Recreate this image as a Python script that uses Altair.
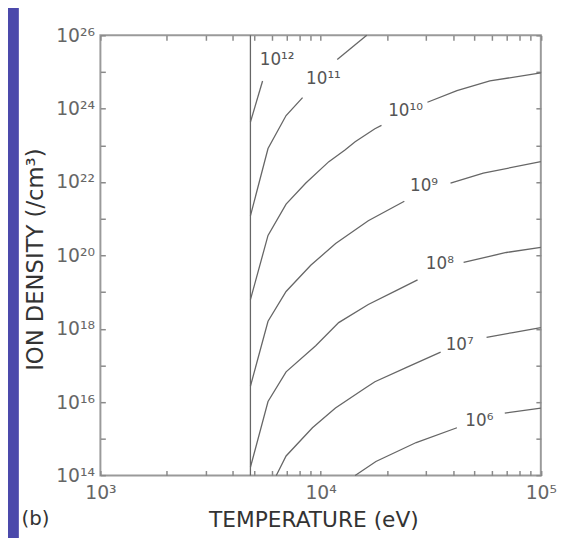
import altair as alt
import pandas as pd

FONT = "DejaVu Sans"

# ---- contour segments (T in eV, ion density n in /cm^3) ----
c12a_T = [4800, 5450]
c12a_n = [4.3e23, 5.7e24]
c11a_T = [4800, 5770, 6970, 8280]
c11a_n = [1.2e21, 8.2e22, 6.5e23, 2.0e24]
c11b_T = [11900, 16200]
c11b_n = [2.2e25, 1.0e26]
c10a_T = [4800, 5770, 6970, 8570, 10900, 12900, 14350, 17640, 18900]
c10a_n = [6.2e18, 3.5e20, 2.5e21, 9.4e21, 3.6e22, 7.5e22, 1.25e23, 2.85e23, 3.5e23]
c10b_T = [30550, 41600, 58700, 100000]
c10b_n = [1.5e24, 3.1e24, 5.7e24, 9.5e24]
c9a_T = [4800, 5770, 6970, 9020, 11700, 16460, 24000]
c9a_n = [2.7e16, 1.6e18, 1.04e19, 5.4e19, 2.1e20, 8.8e20, 3.0e21]
c9b_T = [38900, 54800, 100000]
c9b_n = [9.4e21, 1.75e22, 3.6e22]
c8a_T = [4800, 5770, 6970, 9500, 12080, 16460, 21680, 27560]
c8a_n = [1.67e14, 1.04e16, 6.7e16, 3.45e17, 1.47e18, 4.6e18, 1.04e19, 2.15e19]
c8b_T = [44600, 69700, 100000]
c8b_n = [6.5e19, 1.2e20, 1.65e20]
c7a_T = [6290, 6970, 9180, 11680, 15900, 17640, 24860, 35080]
c7a_n = [1e14, 3.4e14, 2.0e15, 6.9e15, 2.4e16, 3.6e16, 9.1e16, 2.3e17]
c7b_T = [56700, 74700, 100000]
c7b_n = [5.8e17, 7.9e17, 1.08e18]
c6a_T = [14350, 17830, 27170, 41600]
c6a_n = [1e14, 2.4e14, 7.9e14, 2.0e15]
c6b_T = [68600, 100000]
c6b_n = [5.0e15, 6.9e15]

# contour labels
label_T = [6350, 10300, 24300, 29500, 34800, 42800, 52600]
label_n = [2.13e25, 6.56e24, 8.5e23, 7.7e21, 5.8e19, 3.6e17, 3.06e15]
label_text = ["10\u00b9\u00b2", "10\u00b9\u00b9", "10\u00b9\u2070", "10\u2079", "10\u2078", "10\u2077", "10\u2076"]

# vertical boundary line
vline_T = [4800]
vline_n_lo = [1e14]
vline_n_hi = [1e26]

# axes
x_major = [1e3, 1e4, 1e5]
x_major_exp = [3, 4, 5]
x_major_labels = ["10\u00b3", "10\u2074", "10\u2075"]
y_major = [1e14, 1e16, 1e18, 1e20, 1e22, 1e24, 1e26]
y_major_exp = [14, 16, 18, 20, 22, 24, 26]
y_major_labels = ["10\u00b9\u2074", "10\u00b9\u2076", "10\u00b9\u2078", "10\u00b2\u2070",
                  "10\u00b2\u00b2", "10\u00b2\u2074", "10\u00b2\u2076"]
x_ticks = [k * 10 ** e for e in (3, 4) for k in range(1, 10)] + [1e5]
y_ticks = [10.0 ** e for e in range(14, 27)]

segments = [
    ("12a", c12a_T, c12a_n), ("11a", c11a_T, c11a_n), ("11b", c11b_T, c11b_n),
    ("10a", c10a_T, c10a_n), ("10b", c10b_T, c10b_n), ("9a", c9a_T, c9a_n),
    ("9b", c9b_T, c9b_n), ("8a", c8a_T, c8a_n), ("8b", c8b_T, c8b_n),
    ("7a", c7a_T, c7a_n), ("7b", c7b_T, c7b_n), ("6a", c6a_T, c6a_n),
    ("6b", c6b_T, c6b_n),
]
rows = []
for seg, Ts, ns in segments:
    for i, (t, n) in enumerate(zip(Ts, ns)):
        rows.append({"seg": seg, "order": i, "T": t, "n": n})
lines_df = pd.DataFrame(rows)
labels_df = pd.DataFrame({"T": label_T, "n": label_n, "text": label_text})
vline_df = pd.DataFrame({"T": vline_T, "n1": vline_n_lo, "n2": vline_n_hi})


def label_expr(exps, labels):
    e = "round(log(datum.value)/LN10)"
    parts = "".join(f"{e} == {k} ? '{lab}' : " for k, lab in zip(exps, labels))
    return parts + "''"


x_scale = alt.Scale(type="log", domain=[1e3, 1e5], nice=False)
y_scale = alt.Scale(type="log", domain=[1e14, 1e26], nice=False)

PW, PH = 446.6, 446.3

x_axis = alt.Axis(values=x_major, labelExpr=label_expr(x_major_exp, x_major_labels),
                  ticks=False, tickSize=0, domain=False, grid=False, labelFlush=False,
                  labelOverlap=False, labelFont=FONT, labelFontSize=19, labelColor="#666",
                  labelPadding=8, title="TEMPERATURE (eV)", titleFont=FONT,
                  titleFontSize=22, titleFontWeight="normal", titleColor="#333",
                  titleX=216, titleY=45, titleBaseline="middle")
y_axis = alt.Axis(values=y_major, labelExpr=label_expr(y_major_exp, y_major_labels),
                  ticks=False, tickSize=0, domain=False, grid=False, labelOverlap=False,
                  labelFont=FONT, labelFontSize=19, labelColor="#666", labelPadding=6,
                  title="ION DENSITY (/cm\u00b3)", titleFont=FONT, titleFontSize=23,
                  titleFontWeight="normal", titleColor="#333", titleX=-66, titleY=227,
                  titleBaseline="middle", titleAngle=270)

tick_style = dict(labels=False, domain=False, grid=False, title=None, tickSize=5,
                  tickColor="#8a8a8a", tickWidth=1.5)

# blue strip of the slide on the left
strip = alt.Chart(pd.DataFrame({"a": [0]})).mark_rect(color="#4b49ab").encode(
    x=alt.value(-100), x2=alt.value(-82.7), y=alt.value(-40), y2=alt.value(530))

lines = alt.Chart(lines_df).mark_line(color="#666", strokeWidth=1.3).encode(
    x=alt.X("T:Q", scale=x_scale, axis=x_axis),
    y=alt.Y("n:Q", scale=y_scale, axis=y_axis),
    detail="seg:N", order="order:Q")

ticks_bl = alt.Chart(lines_df).mark_line(strokeOpacity=0).encode(
    x=alt.X("T:Q", scale=x_scale, axis=alt.Axis(orient="bottom", values=x_ticks, offset=-5, **tick_style)),
    y=alt.Y("n:Q", scale=y_scale, axis=alt.Axis(orient="left", values=y_ticks, offset=-5, **tick_style)),
    detail="seg:N")
ticks_tr = alt.Chart(lines_df).mark_line(strokeOpacity=0).encode(
    x=alt.X("T:Q", scale=x_scale, axis=alt.Axis(orient="top", values=x_ticks, offset=-5, **tick_style)),
    y=alt.Y("n:Q", scale=y_scale, axis=alt.Axis(orient="right", values=y_ticks, offset=-5, **tick_style)),
    detail="seg:N")

vline = alt.Chart(vline_df).mark_rule(color="#666", strokeWidth=1.3).encode(
    x=alt.X("T:Q", scale=x_scale, axis=None),
    y=alt.Y("n1:Q", scale=y_scale, axis=None), y2="n2:Q")

labels = alt.Chart(labels_df).mark_text(font=FONT, fontSize=17, color="#555").encode(
    x=alt.X("T:Q", scale=x_scale, axis=None),
    y=alt.Y("n:Q", scale=y_scale, axis=None),
    text="text:N")

panel_tag = alt.Chart(pd.DataFrame({"t": ["(b)"]})).mark_text(
    align="left", baseline="middle", font=FONT, fontSize=20, color="#333").encode(
    x=alt.value(-80), y=alt.value(491), text="t:N")

chart = alt.layer(strip, lines, ticks_bl, ticks_tr, vline, labels, panel_tag).resolve_axis(
    x="independent", y="independent"
).properties(
    width=PW, height=PH,
    autosize=alt.AutoSizeParams(type="none"),
    padding={"left": 93.7, "top": 24, "right": 37.7, "bottom": 59.7},
    background="white",
).configure_view(stroke="#9a9a9a", strokeWidth=2)

chart.save("out.html", embed_options={"renderer": "svg", "actions": False})
